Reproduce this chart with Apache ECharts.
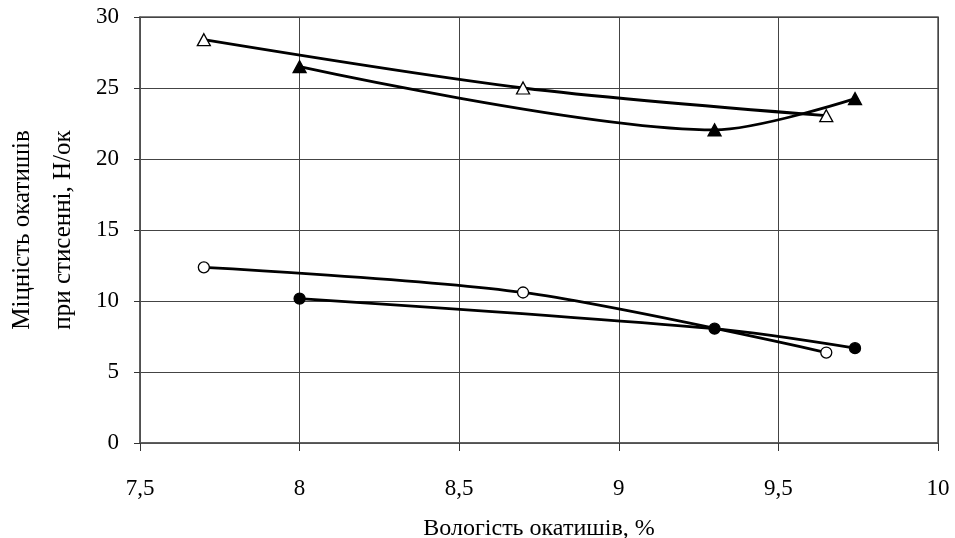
<!DOCTYPE html>
<html>
<head>
<meta charset="utf-8">
<script src="https://cdn.jsdelivr.net/npm/echarts@6/dist/echarts.min.js"></script>
<style>html,body{margin:0;padding:0;background:#fff}#c{width:955px;height:538px}</style>
</head>
<body>
<div id="c"></div>
<script>
const xTitle = 'Вологість окатишів, %';
const yTitle = 'Міцність окатишів\nпри стисенні, Н/ок';
const openTriX = [7.7, 8.7, 9.65];
const openTriY = [28.4, 25.0, 23.05];
const fillTriX = [8.0, 9.3, 9.74];
const fillTriY = [26.5, 22.05, 24.25];
const openCirX = [7.7, 8.7, 9.65];
const openCirY = [12.37, 10.6, 6.37];
const fillCirX = [8.0, 9.3, 9.74];
const fillCirY = [10.17, 8.05, 6.68];

const FONT = '"Liberation Serif", "Times New Roman", serif';
function pts(xs, ys){ return xs.map((x,i)=>[x, ys[i]]); }
function mk(name, xs, ys, symbol, filled, size){
  return {
    name, type:'line', data: pts(xs, ys), smooth: 0.3,
    symbol, symbolSize: size, showSymbol: true,
    lineStyle:{color:'#000', width:2.8},
    itemStyle:{color: filled ? '#000' : '#fff', borderColor:'#000', borderWidth:1.3},
    emphasis:{disabled:true}, z: 3
  };
}
const chart = echarts.init(document.getElementById('c'), null, {renderer:'canvas'});
chart.setOption({
  animation:false,
  backgroundColor:'#fff',
  grid:{left:140, right:17, top:17, bottom:95, show:true, borderColor:'#555', borderWidth:1.5,
        containLabel:false, outerBoundsMode:'none'},
  xAxis:{
    type:'value', min:7.5, max:10, interval:0.5,
    name:xTitle, nameLocation:'middle', nameGap:74,
    nameTextStyle:{fontFamily:FONT, fontSize:24, color:'#000'},
    axisLine:{show:true, onZero:false, lineStyle:{color:'#555', width:1.5}},
    axisTick:{show:true, inside:false, length:8, lineStyle:{color:'#333'}},
    axisLabel:{fontFamily:FONT, fontSize:23, color:'#000', margin:34,
      formatter: v => String(v).replace('.', ',')},
    splitLine:{show:true, lineStyle:{color:'#444', width:1}}
  },
  yAxis:{
    type:'value', min:0, max:30, interval:5,
    name:yTitle, nameLocation:'middle', nameGap:56, nameRotate:90,
    nameTextStyle:{fontFamily:FONT, fontSize:25, color:'#000', lineHeight:41, align:'center'},
    axisLine:{show:true, lineStyle:{color:'#555', width:1.5}},
    axisTick:{show:true, inside:false, length:6, lineStyle:{color:'#333'}},
    axisLabel:{fontFamily:FONT, fontSize:23, color:'#000', margin:21},
    splitLine:{show:true, lineStyle:{color:'#444', width:1}}
  },
  series:[
    mk('openTri', openTriX, openTriY, 'triangle', false, [13,12]),
    mk('fillTri', fillTriX, fillTriY, 'triangle', true, [13,12]),
    mk('openCir', openCirX, openCirY, 'circle', false, 11),
    mk('fillCir', fillCirX, fillCirY, 'circle', true, 11)
  ]
});
</script>
</body>
</html>
